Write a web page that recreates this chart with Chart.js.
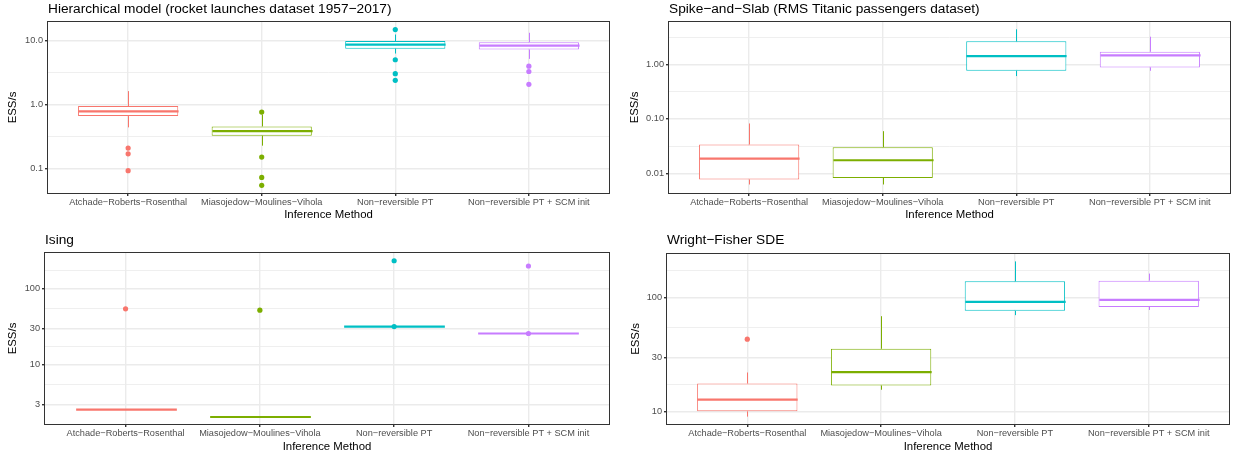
<!DOCTYPE html>
<html>
<head>
<meta charset="utf-8">
<script src="https://cdn.jsdelivr.net/npm/chart.js@4.4.1/dist/chart.umd.min.js"></script>
<style>
  body { margin: 0; background: #fff; }
  #wrap { position: relative; width: 1233px; height: 456px; }
  canvas { position: absolute; }
</style>
</head>
<body>
<div id="wrap">
  <canvas id="hier" width="616" height="228" style="left:0;top:0"></canvas>
  <canvas id="spike" width="617" height="228" style="left:616px;top:0"></canvas>
  <canvas id="ising" width="616" height="228" style="left:0;top:228px"></canvas>
  <canvas id="wf" width="617" height="228" style="left:616px;top:228px"></canvas>
</div>
<script>
// Methods on the x axis and their colours
const methods = ["Atchade−Roberts−Rosenthal", "Miasojedow−Moulines−Vihola", "Non−reversible PT", "Non−reversible PT + SCM init"];
const methodColors = ["#F8766D", "#7CAE00", "#00BFC4", "#C77CFF"];

// Hierarchical model (rocket launches)
const hierLow = [0.442, 0.229, 6.3, 5.2];
const hierQ1 = [0.664, 0.328, 7.5, 7.3];
const hierMed = [0.786, 0.387, 8.67, 8.4];
const hierQ3 = [0.95, 0.458, 9.87, 9.5];
const hierHigh = [1.63, 0.70, 12.5, 13.3];
const hierOutliers = [[0.21, 0.171, 0.093], [0.767, 0.152, 0.073, 0.055], [14.9, 5.04, 3.05, 2.4], [4.0, 3.3, 2.08]];
const hierTicks = [0.1, 1, 10];
const hierTickLabels = ["0.1", "1.0", "10.0"];
const hierMinor = [0.3162, 3.162];

// Spike-and-Slab (Titanic)
const spikeLow = [0.0063, 0.0063, 0.61, 0.763];
const spikeQ1 = [0.0078, 0.0083, 0.763, 0.88];
const spikeMed = [0.0188, 0.0175, 1.42, 1.46];
const spikeQ3 = [0.034, 0.0304, 2.64, 1.70];
const spikeHigh = [0.0826, 0.0597, 4.39, 3.21];
const spikeOutliers = [[], [], [], []];
const spikeTicks = [0.01, 0.1, 1];
const spikeTickLabels = ["0.01", "0.10", "1.00"];
const spikeMinor = [0.03162, 0.3162, 3.162];

// Ising
const isingLow = [2.56, 2.05, 31.6, 25.6];
const isingQ1 = [2.56, 2.05, 31.6, 25.6];
const isingMed = [2.56, 2.05, 31.6, 25.6];
const isingQ3 = [2.56, 2.05, 31.6, 25.6];
const isingHigh = [2.56, 2.05, 31.6, 25.6];
const isingOutliers = [[54], [51.9], [31.6, 231], [25.6, 197]];
const isingTicks = [3, 10, 30, 100];
const isingTickLabels = ["3", "10", "30", "100"];
const isingMinor = [5.477, 17.32, 54.77, 173.2];

// Wright-Fisher SDE
const wfLow = [8.98, 15.5, 70.5, 78.3];
const wfQ1 = [10.0, 16.9, 76.9, 83.3];
const wfMed = [12.7, 22.2, 92.2, 96];
const wfQ3 = [17.6, 35.6, 140, 142];
const wfHigh = [22.0, 69, 210, 164];
const wfOutliers = [[43.3], [], [], []];
const wfTicks = [10, 30, 100];
const wfTickLabels = ["10", "30", "100"];
const wfMinor = [17.32, 54.77, 173.2];

const family = "'Liberation Sans', Arial, Helvetica, sans-serif";

function makePanel(id, title, low, q1, med, q3, high, outliers, ticks, tickLabels, minor, ymin, ymax, layout) {
  const boxes = methods.map((m, i) => ({ x: i + 1, y: [q1[i], q3[i]] }));
  const points = [];
  outliers.forEach((list, i) => list.forEach(v => points.push({ x: i + 1, y: v })));
  const allTicks = ticks.concat(minor).sort((a, b) => a - b);

  // whiskers, medians, panel border and title
  const boxParts = {
    id: "boxParts",
    afterDatasetDraw(chart, args) {
      if (args.index !== 0) return;
      const { ctx, scales: { x, y } } = chart;
      const half = x.getPixelForValue(1.375) - x.getPixelForValue(1);
      ctx.save();
      low.forEach((lo, i) => {
        const cx = Math.round(x.getPixelForValue(i + 1)) + 0.5;
        ctx.strokeStyle = methodColors[i];
        ctx.lineWidth = 1;
        ctx.beginPath();
        ctx.moveTo(cx, y.getPixelForValue(q3[i]));
        ctx.lineTo(cx, y.getPixelForValue(high[i]));
        ctx.moveTo(cx, y.getPixelForValue(q1[i]));
        ctx.lineTo(cx, y.getPixelForValue(lo));
        ctx.stroke();
        ctx.lineWidth = 2.2;
        const my = y.getPixelForValue(med[i]);
        ctx.beginPath();
        ctx.moveTo(cx - half, my);
        ctx.lineTo(cx + half, my);
        ctx.stroke();
      });
      ctx.restore();
    },
    afterDraw(chart) {
      const { ctx, chartArea: a } = chart;
      ctx.save();
      ctx.strokeStyle = "#333333";
      ctx.lineWidth = 1;
      ctx.strokeRect(Math.round(a.left) - 0.5, Math.round(a.top) - 0.5, Math.round(a.right - a.left) + 1, Math.round(a.bottom - a.top) + 1);
      ctx.fillStyle = "#000";
      ctx.font = "13.7px " + family;
      ctx.textBaseline = "alphabetic";
      ctx.fillText(title, a.left, layout.titleY);
      ctx.restore();
    }
  };

  new Chart(document.getElementById(id), {
    type: "bar",
    data: {
      datasets: [
        {
          type: "bar",
          data: boxes,
          backgroundColor: "#ffffff",
          borderColor: methodColors,
          borderWidth: 1,
          borderSkipped: false,
          barPercentage: 0.75,
          categoryPercentage: 1,
          order: 2
        },
        {
          type: "scatter",
          data: points,
          pointRadius: 2.6,
          pointBorderWidth: 0,
          pointBackgroundColor: (c) => methodColors[c.raw ? c.raw.x - 1 : 0],
          order: 1
        }
      ]
    },
    options: {
      responsive: false,
      animation: false,
      layout: { padding: { top: layout.top, right: layout.right, left: 0, bottom: 0 } },
      plugins: { legend: { display: false }, tooltip: { enabled: false } },
      scales: {
        x: {
          type: "linear",
          min: 0.4,
          max: 4.6,
          offset: false,
          afterBuildTicks: (s) => { s.ticks = methods.map((m, i) => ({ value: i + 1 })); },
          afterFit: (s) => { s.height = layout.xh; },
          ticks: {
            callback: (v) => methods[v - 1],
            autoSkip: false,
            maxRotation: 0,
            color: "#4D4D4D",
            font: { family, size: 9.2 },
            padding: 1
          },
          grid: { offset: false, color: "#EBEBEB", lineWidth: 1.4, tickColor: "#333333", tickLength: 3 },
          border: { display: false },
          title: {
            display: true,
            text: "Inference Method",
            color: "#000",
            font: { family, size: 11.4 },
            padding: { top: 0, bottom: layout.xtPad }
          }
        },
        y: {
          type: "logarithmic",
          min: ymin,
          max: ymax,
          afterBuildTicks: (s) => { s.ticks = allTicks.map(v => ({ value: v })); },
          afterFit: (s) => { s.width = layout.yw; },
          ticks: {
            callback: (v) => { const k = ticks.indexOf(v); return k >= 0 ? tickLabels[k] : ""; },
            autoSkip: false,
            color: "#4D4D4D",
            font: { family, size: 9.2 },
            padding: 2
          },
          grid: {
            color: "#EBEBEB",
            lineWidth: (c) => ticks.includes(c.tick.value) ? 1.4 : 0.8,
            tickColor: (c) => ticks.includes(c.tick.value) ? "#333333" : "rgba(0,0,0,0)",
            tickLength: 3
          },
          border: { display: false },
          title: {
            display: true,
            text: "ESS/s",
            color: "#000",
            font: { family, size: 11.4 },
            padding: { top: layout.ytPad, bottom: 0 }
          }
        }
      }
    },
    plugins: [boxParts]
  });
}

makePanel("hier", "Hierarchical model (rocket launches dataset 1957−2017)",
  hierLow, hierQ1, hierMed, hierQ3, hierHigh, hierOutliers, hierTicks, hierTickLabels, hierMinor, 0.0417, 19.6,
  { top: 22, right: 7, yw: 48, xh: 35, xtPad: 6.2, ytPad: 6.2, titleY: 12.7 });
makePanel("spike", "Spike−and−Slab (RMS Titanic passengers dataset)",
  spikeLow, spikeQ1, spikeMed, spikeQ3, spikeHigh, spikeOutliers, spikeTicks, spikeTickLabels, spikeMinor, 0.0044, 5.97,
  { top: 22, right: 3, yw: 53, xh: 35, xtPad: 6.2, ytPad: 12.2, titleY: 12.7 });
makePanel("ising", "Ising",
  isingLow, isingQ1, isingMed, isingQ3, isingHigh, isingOutliers, isingTicks, isingTickLabels, isingMinor, 1.66, 292,
  { top: 25, right: 7, yw: 45, xh: 32, xtPad: 1.9, ytPad: 6.5, titleY: 15.5 });
makePanel("wf", "Wright−Fisher SDE",
  wfLow, wfQ1, wfMed, wfQ3, wfHigh, wfOutliers, wfTicks, wfTickLabels, wfMinor, 7.73, 244,
  { top: 26, right: 3, yw: 51, xh: 32, xtPad: 1.9, ytPad: 12.7, titleY: 15.8 });
</script>
</body>
</html>
